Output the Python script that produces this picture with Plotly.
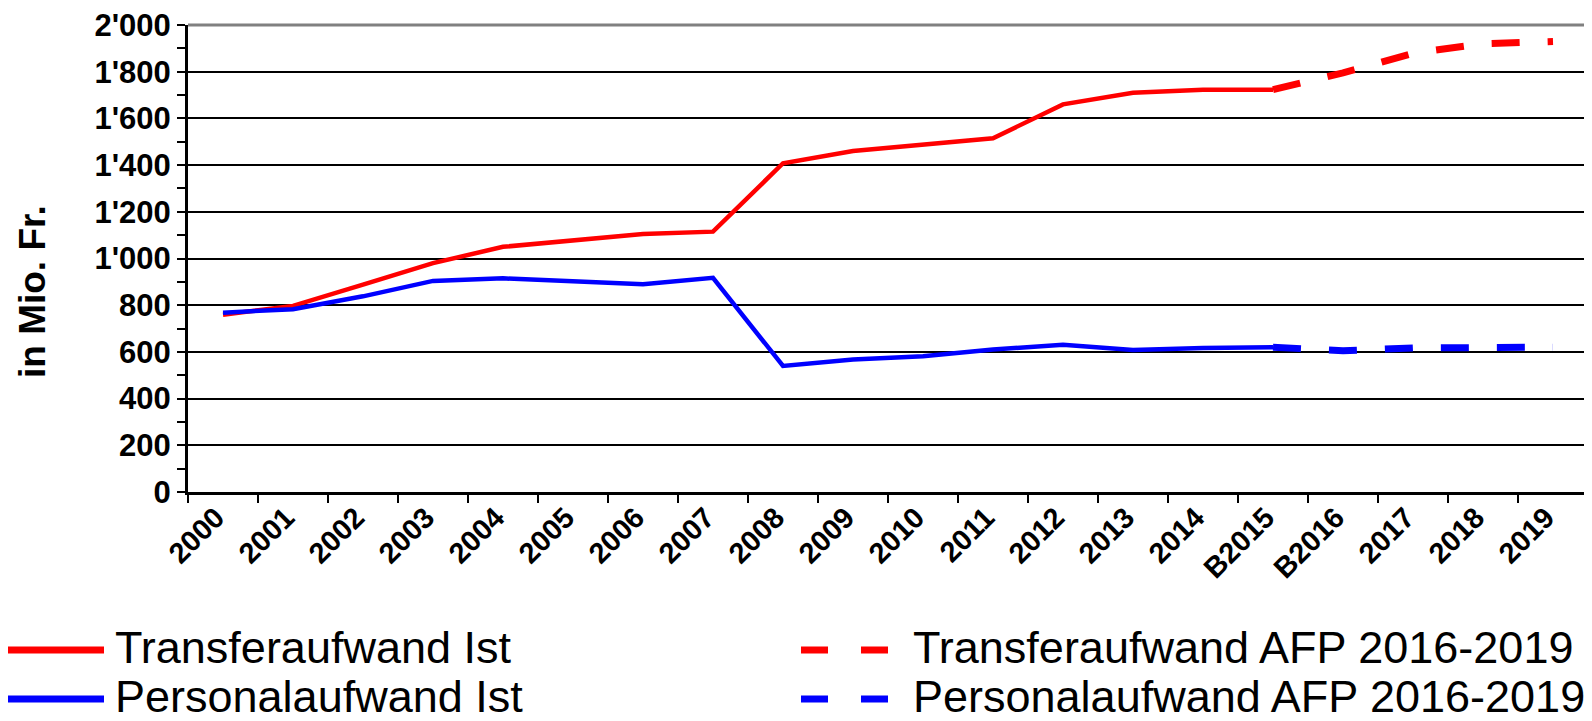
import plotly.graph_objects as go

categories = ['2000', '2001', '2002', '2003', '2004', '2005', '2006', '2007', '2008', '2009',
              '2010', '2011', '2012', '2013', '2014', 'B2015', 'B2016', '2017', '2018', '2019']
transfer_ist = [759, 797, 888, 980, 1050, 1078, 1105, 1115, 1408, 1460,
                1487, 1515, 1660, 1710, 1723, 1723, None, None, None, None]
transfer_afp = [None] * 15 + [1723, 1795, 1879, 1920, 1929]
personal_ist = [768, 783, 838, 904, 915, 902, 890, 917, 540, 567,
                581, 610, 631, 608, 617, 620, None, None, None, None]
personal_afp = [None] * 15 + [620, 605, 617, 619, 620]

legend_labels = ['Transferaufwand Ist', 'Personalaufwand Ist',
                 'Transferaufwand AFP 2016-2019', 'Personalaufwand AFP 2016-2019']
y_title = 'in Mio. Fr.'

RED = '#FF0000'
BLUE = '#0000FF'
OFF = 8  # default page body margin
W, H = 1592 - OFF, 721 - OFF
L, R, T, B = 188 - OFF, 4, 25 - OFF, 229
PW, PH = W - L - R, H - T - B


def px(x):
    # page pixel -> paper coordinate
    return (x - OFF - L) / PW


def py(y):
    return (H - B - (y - OFF)) / PH


fig = go.Figure()
fig.add_trace(go.Scatter(x=categories, y=transfer_ist, mode='lines', name=legend_labels[0],
                         line=dict(color=RED, width=4.5), showlegend=False))
fig.add_trace(go.Scatter(x=categories, y=personal_ist, mode='lines', name=legend_labels[1],
                         line=dict(color=BLUE, width=4.5), showlegend=False))
fig.add_trace(go.Scatter(x=categories, y=transfer_afp, mode='lines', name=legend_labels[2],
                         line=dict(color=RED, width=7, dash='28px,28px'), showlegend=False))
fig.add_trace(go.Scatter(x=categories, y=personal_afp, mode='lines', name=legend_labels[3],
                         line=dict(color=BLUE, width=7, dash='28px,28px'), showlegend=False))

xtick_font = dict(family='Liberation Sans, Arial, sans-serif', size=29, color='black', weight='bold')
ytick_font = dict(family='Liberation Sans, Arial, sans-serif', size=31, color='black', weight='bold')
legend_font = dict(family='Liberation Sans, Arial, sans-serif', size=45, color='black')

fig.update_xaxes(type='category', categoryorder='array', categoryarray=categories,
                 range=[-0.5, len(categories) - 0.5],
                 tickson='boundaries', ticks='outside', ticklen=8, tickwidth=2, tickcolor='black',
                 showline=True, linecolor='black', linewidth=3, showgrid=False,
                 tickangle=-45, tickfont=xtick_font, ticklabelshift=-7, ticklabelstandoff=-6,
                 ticklabeloverflow='allow')
fig.update_yaxes(range=[0, 2000], dtick=200, tickformat=',d',
                 showgrid=True, gridcolor='black', gridwidth=2, zeroline=False,
                 ticks='outside', ticklen=8, tickwidth=2, tickcolor='black',
                 showline=True, linecolor='black', linewidth=3,
                 minor=dict(dtick=100, ticks='outside', ticklen=8, tickwidth=2,
                            tickcolor='black', showgrid=False),
                 tickfont=ytick_font, ticklabeloverflow='allow')

shapes = [
    dict(type='line', xref='paper', yref='paper', x0=0, x1=1, y0=1, y1=1,
         line=dict(color='#808080', width=3)),
    dict(type='line', xref='paper', yref='paper', x0=1, x1=1, y0=0, y1=1,
         line=dict(color='#808080', width=3)),
]
legend_rows = [650, 699]
legend_items = [
    (legend_labels[0], RED, 'solid', 6, 104, 113, legend_rows[0]),
    (legend_labels[1], BLUE, 'solid', 6, 104, 113, legend_rows[1]),
    (legend_labels[2], RED, '27px,33px', 801, 894, 911, legend_rows[0]),
    (legend_labels[3], BLUE, '27px,33px', 801, 894, 911, legend_rows[1]),
]
annotations = []
for text, color, dash, x0, x1, tx, ry in legend_items:
    shapes.append(dict(type='line', xref='paper', yref='paper', x0=px(x0), x1=px(x1),
                       y0=py(ry), y1=py(ry), line=dict(color=color, width=7, dash=dash)))
    annotations.append(dict(text=text, xref='paper', yref='paper', x=px(tx), y=py(ry - 3),
                            xanchor='left', yanchor='middle', showarrow=False, font=legend_font))
annotations.append(dict(text=y_title, xref='paper', yref='paper', x=px(32), y=py(292),
                        xanchor='center', yanchor='middle', textangle=-90, showarrow=False,
                        font=dict(family='Liberation Sans, Arial, sans-serif', size=37,
                                  color='black', weight='bold')))

fig.update_layout(width=W, height=H, margin=dict(l=L, r=R, t=T, b=B, autoexpand=False),
                  paper_bgcolor='white', plot_bgcolor='white', separators=".'",
                  shapes=shapes, annotations=annotations, showlegend=False)
fig.write_html('out.html')
